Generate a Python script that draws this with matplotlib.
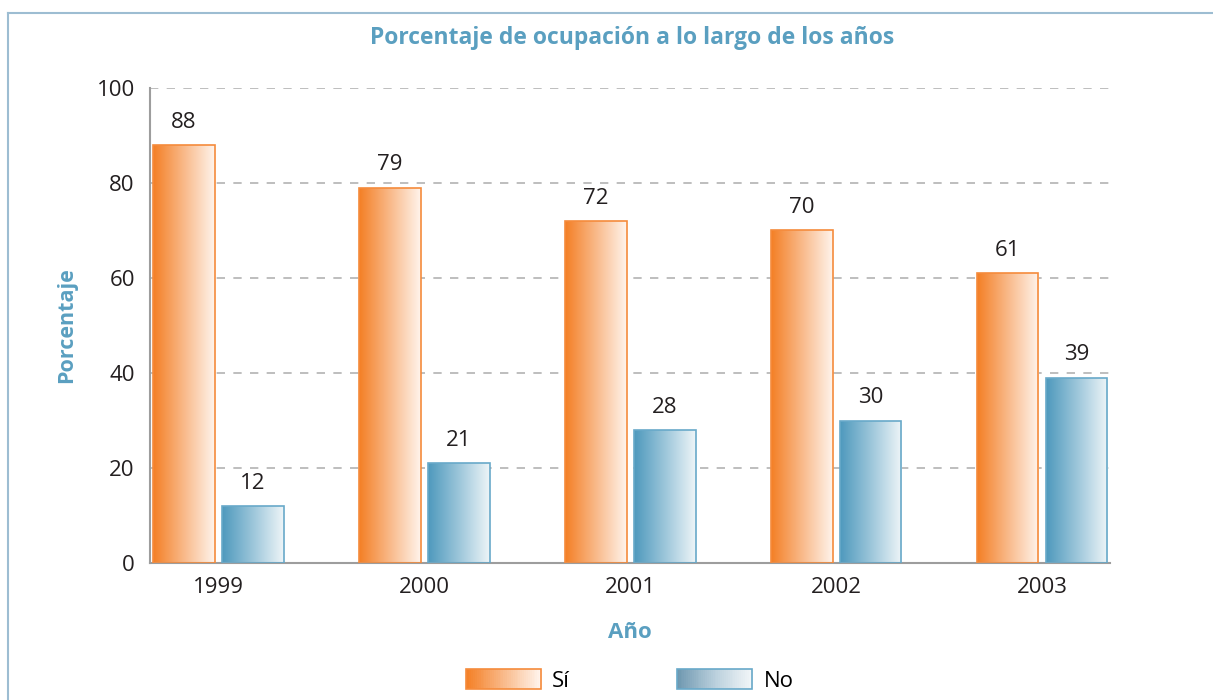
import numpy as np
import matplotlib
matplotlib.use("Agg")
from matplotlib import pyplot as plt
from matplotlib.patches import Rectangle
from matplotlib.lines import Line2D
from matplotlib.legend_handler import HandlerBase
from matplotlib.colors import LinearSegmentedColormap

years = ["1999", "2000", "2001", "2002", "2003"]
si_vals = [88, 79, 72, 70, 61]
no_vals = [12, 21, 28, 30, 39]
series_names = ["Sí", "No"]

BLUE_TXT = "#5a9fc0"
plt.rcParams['font.family'] = ['Open Sans', 'DejaVu Sans']

si_cmap = LinearSegmentedColormap.from_list("si", ["#f47f25", "#f9b989", "#fff4ec"])
no_cmap = LinearSegmentedColormap.from_list("no", ["#4e99bd", "#9cc6da", "#eef5f8"])
si_legend_cmap = si_cmap
no_legend_cmap = LinearSegmentedColormap.from_list("nol", ["#6f98b0", "#b9cfdc", "#f2f6f8"])


class GradientHandler(HandlerBase):
    def __init__(self, cmap, edge):
        super().__init__()
        self.cmap = cmap
        self.edge = edge

    def create_artists(self, legend, orig_handle, xdescent, ydescent,
                       width, height, fontsize, trans):
        n = 40
        arts = []
        for i in range(n):
            r = Rectangle((-xdescent + width * i / n, -ydescent), width / n + 0.3, height,
                          facecolor=self.cmap(i / (n - 1)), edgecolor='none', transform=trans)
            arts.append(r)
        arts.append(Rectangle((-xdescent, -ydescent), width, height, facecolor='none',
                              edgecolor=self.edge, lw=1.2, transform=trans))
        return arts


def gradient_bars(ax, xs, vals, width, cmap, edge):
    grad = np.linspace(0, 1, 256).reshape(1, -1)
    bars = ax.bar(xs, vals, width, facecolor='none', edgecolor=edge, linewidth=1.2, zorder=3)
    for b in bars:
        x0 = b.get_x()
        im = ax.imshow(grad, cmap=cmap, aspect='auto', extent=(x0, x0 + b.get_width(), 0, b.get_height()),
                       zorder=2, interpolation='bilinear')
        im.set_clip_path(b)
        ax.text(b.get_x() + b.get_width() / 2, b.get_height() + 2.6, str(int(b.get_height())),
                ha='center', va='bottom', fontsize=16, color='#231f20')
    return bars


fig = plt.figure(figsize=(12.13, 7.0), dpi=100)
ax = fig.add_axes([0.1237, 0.1957, 0.7913, 0.6786])

x = np.arange(len(years))
w = 0.30
off = 0.1675
b1 = gradient_bars(ax, x - off, si_vals, w, si_cmap, "#f58b3c")
b2 = gradient_bars(ax, x + off, no_vals, w, no_cmap, "#68a9c9")

ax.set_xlim(-0.333, 4.33)
ax.set_ylim(0, 100)
ax.set_yticks([0, 20, 40, 60, 80, 100])
ax.set_xticks(x)
ax.set_xticklabels(years)
ax.tick_params(axis='both', length=0, labelsize=16, colors='#231f20')
ax.tick_params(axis='y', pad=11)
ax.tick_params(axis='x', pad=10)
ax.yaxis.grid(True, linestyle=(0, (5, 5)), color='#b3b3b3', linewidth=1.2, zorder=0)
ax.set_axisbelow(True)
for s in ['top', 'right']:
    ax.spines[s].set_visible(False)
for s in ['left', 'bottom']:
    ax.spines[s].set_color('#9d9d9d')
    ax.spines[s].set_linewidth(1.5)

ax.set_ylabel("Porcentaje", fontsize=15.5, fontweight='bold', color=BLUE_TXT, labelpad=14)
ax.set_xlabel("Año", fontsize=16, fontweight='bold', color=BLUE_TXT, labelpad=17)
fig.text(0.521, 0.945, "Porcentaje de ocupación a lo largo de los años", ha='center', va='center',
         fontsize=16.5, fontweight='bold', color=BLUE_TXT)

h1 = Rectangle((0, 0), 1, 1)
h2 = Rectangle((0, 0), 1, 1)
fig.legend([h1, h2], series_names, loc='center', bbox_to_anchor=(0.519, 0.028), ncol=2,
           frameon=False, fontsize=16, handlelength=3.4, handleheight=1.0, columnspacing=4.8,
           handletextpad=0.5,
           handler_map={h1: GradientHandler(si_legend_cmap, "#f58b3c"),
                        h2: GradientHandler(no_legend_cmap, "#68a9c9")})

# light blue frame around the chart
fig.add_artist(Line2D([8 / 1213, 1.0], [1 - 13 / 700, 1 - 13 / 700], color='#9dbdd2', lw=1.5,
                      transform=fig.transFigure))
fig.add_artist(Line2D([8 / 1213, 8 / 1213], [0.0, 1 - 13 / 700], color='#9dbdd2', lw=1.5,
                      transform=fig.transFigure))

plt.savefig("out.png", format='png', dpi=100)
